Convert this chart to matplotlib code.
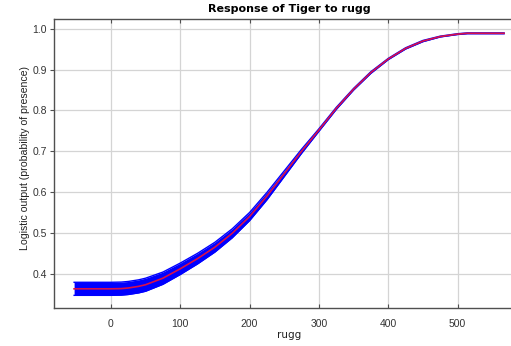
import numpy as np
import matplotlib
matplotlib.use("Agg")
import matplotlib.pyplot as plt

# response curve of tiger presence vs ruggedness (mean and +/- one sd)
rugg = [-53, 0, 15, 25, 40, 50, 75, 100, 125, 150, 175, 200, 225, 250, 275,
        300, 325, 350, 375, 400, 425, 450, 475, 500, 514, 540, 567]
mean_resp = [0.363, 0.363, 0.3635, 0.365, 0.369, 0.373, 0.389, 0.412, 0.437, 0.465,
             0.499, 0.540, 0.590, 0.645, 0.700, 0.752, 0.805, 0.852, 0.893, 0.926,
             0.952, 0.970, 0.981, 0.987, 0.989, 0.989, 0.989]
sd_resp = [0.016, 0.016, 0.016, 0.016, 0.016, 0.016, 0.015, 0.014, 0.013, 0.012,
           0.011, 0.010, 0.009, 0.007, 0.005, 0.003, 0.0025, 0.002, 0.002, 0.0015,
           0.0015, 0.0015, 0.001, 0.001, 0.001, 0.001, 0.001]

xticks = [0, 100, 200, 300, 400, 500]
yticks = [0.4, 0.5, 0.6, 0.7, 0.8, 0.9, 1.0]

rugg = np.array(rugg)
mean_resp = np.array(mean_resp)
sd_resp = np.array(sd_resp)

fig = plt.figure(figsize=(5.11, 3.46), dpi=100)
ax = fig.add_axes([54 / 511, 38 / 346, 457 / 511, 289 / 346])

ax.fill_between(rugg, mean_resp - sd_resp, mean_resp + sd_resp, color='#0000ff', lw=0)
ax.plot(rugg, mean_resp + sd_resp, color='#0000ff', lw=1.0)
ax.plot(rugg, mean_resp - sd_resp, color='#0000ff', lw=1.0)
ax.plot(rugg, mean_resp, color='#d8104a', lw=1.2)

ax.set_xlim(-82, 577)
ax.set_ylim(0.316, 1.024)
ax.set_xticks(xticks)
ax.set_yticks(yticks)
ax.set_yticklabels([f"{v:.1f}" for v in yticks])
ax.grid(True, color='#d4d4d4', lw=0.9)
ax.set_axisbelow(True)

for s in ['top', 'bottom', 'left']:
    ax.spines[s].set_color('#505050')
    ax.spines[s].set_linewidth(1.0)
ax.spines['right'].set_visible(False)

ax.tick_params(axis='x', direction='in', top=True, length=3, width=0.8,
               color='#505050', labelsize=7.5, pad=8, labelcolor='#333333')
ax.tick_params(axis='y', direction='out', length=3, width=0.8,
               color='#505050', labelsize=7.5, pad=2, labelcolor='#333333')
for lab in ax.get_xticklabels() + ax.get_yticklabels():
    lab.set_family('Liberation Sans')

ax.set_xlabel('rugg', fontsize=7.5, family='DejaVu Sans', color='#222222', labelpad=2)
ax.set_ylabel('Logistic output (probability of presence)', fontsize=7.6,
              family='Liberation Sans', color='#222222', labelpad=2)
ax.xaxis.set_label_coords((289 - 54) / 457, -0.075)
ax.yaxis.set_label_coords(-0.053, 0.52)

fig.text(289.5 / 511, 1 - 9 / 346, 'Response of Tiger to rugg', ha='center', va='center',
         fontsize=8, fontweight='bold', family='DejaVu Sans')

fig.savefig('out.png', dpi=100)
